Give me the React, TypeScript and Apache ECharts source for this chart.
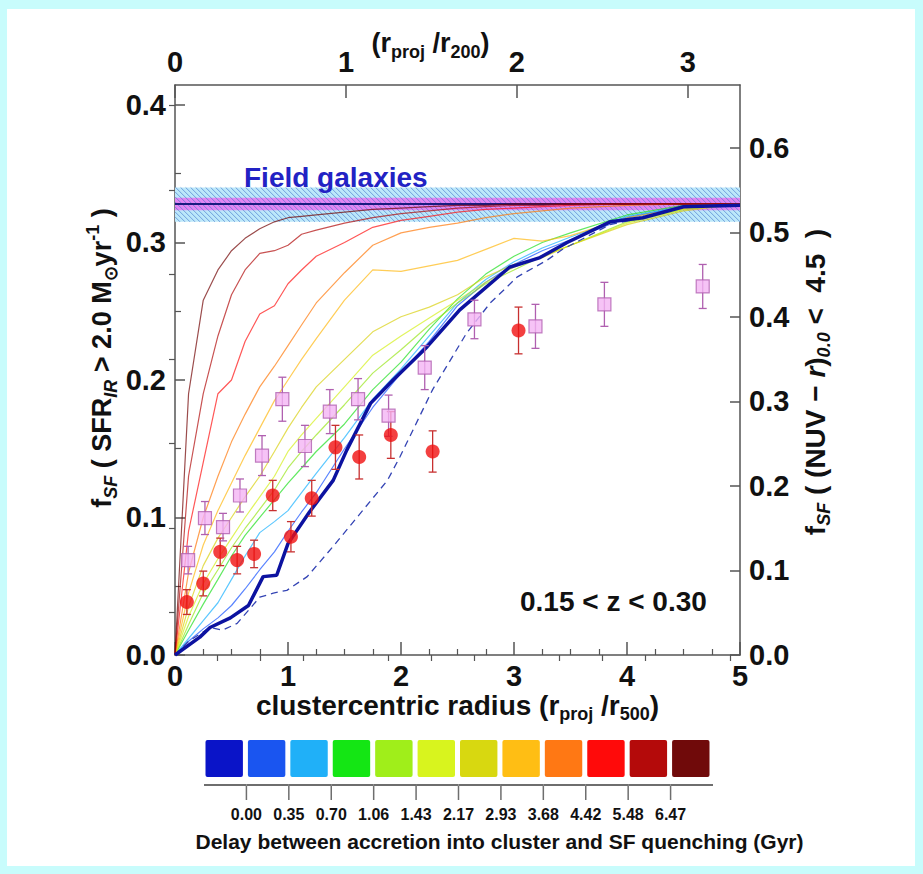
import React, { useEffect, useRef } from 'react';
import * as echarts from 'echarts';

const FONT = '"Liberation Sans", Arial, Helvetica, sans-serif';

// ---- axes ----
const radiusMajor = [0, 1, 2, 3, 4, 5];
const radiusMinor = [0.25, 0.5, 0.75, 1.25, 1.5, 1.75, 2.25, 2.5, 2.75, 3.25, 3.5, 3.75, 4.25, 4.5, 4.75];
const r200Max = 3.305;
const r200Major = [0, 1, 2, 3];
const r200Minor = [0.25, 0.5, 0.75, 1.25, 1.5, 1.75, 2.25, 2.5, 2.75, 3.25];
const irMax = 0.4145;
const irMajor = [0, 0.1, 0.2, 0.3, 0.4];
const irMinor = [0.05, 0.15, 0.25, 0.35];
const nuvMax = 0.6745;
const nuvMajor = [0, 0.1, 0.2, 0.3, 0.4, 0.5, 0.6];
const nuvMinor = [0.05, 0.15, 0.25, 0.35, 0.45, 0.55, 0.65];

// ---- field galaxies band ----
const fieldRange = [0, 5];
const fieldHatch = [0.315, 0.34];
const fieldCore = [0.3235, 0.3325];
const fieldValue = 0.328;

// ---- model curves (thin), sampled on common radii ----
const radiusGrid = [0, 0.12, 0.25, 0.38, 0.5, 0.62, 0.75, 0.88, 1.0, 1.12, 1.25, 1.5, 1.75, 2.0, 2.25, 2.5, 2.75, 3.0, 3.25, 3.5, 4.0, 4.5, 5.0];
const delay035 = [0, 0.01, 0.019, 0.027, 0.036, 0.048, 0.062, 0.075, 0.09, 0.104, 0.118, 0.15, 0.18, 0.205, 0.228, 0.254, 0.271, 0.284, 0.294, 0.302, 0.318, 0.326, 0.328];
const delay070 = [0, 0.012, 0.025, 0.038, 0.055, 0.072, 0.089, 0.097, 0.105, 0.118, 0.132, 0.158, 0.186, 0.208, 0.232, 0.256, 0.273, 0.286, 0.296, 0.304, 0.319, 0.326, 0.328];
const delay106 = [0, 0.018, 0.037, 0.055, 0.072, 0.087, 0.1, 0.113, 0.125, 0.136, 0.148, 0.168, 0.193, 0.213, 0.237, 0.259, 0.277, 0.29, 0.3, 0.307, 0.32, 0.327, 0.328];
const delay143 = [0, 0.022, 0.045, 0.062, 0.078, 0.092, 0.106, 0.12, 0.136, 0.148, 0.16, 0.182, 0.205, 0.222, 0.24, 0.256, 0.27, 0.28, 0.29, 0.298, 0.315, 0.324, 0.328];
const delay217 = [0, 0.028, 0.052, 0.07, 0.085, 0.1, 0.115, 0.13, 0.148, 0.16, 0.172, 0.195, 0.218, 0.232, 0.245, 0.258, 0.271, 0.282, 0.29, 0.298, 0.314, 0.324, 0.328];
const delay293 = [0, 0.035, 0.065, 0.085, 0.1, 0.115, 0.13, 0.148, 0.165, 0.18, 0.195, 0.215, 0.235, 0.246, 0.253, 0.262, 0.275, 0.284, 0.289, 0.298, 0.313, 0.323, 0.328];
const delay368 = [0, 0.045, 0.08, 0.105, 0.125, 0.145, 0.165, 0.185, 0.2, 0.215, 0.23, 0.258, 0.28, 0.279, 0.283, 0.287, 0.295, 0.303, 0.301, 0.305, 0.318, 0.325, 0.328];
const delay442 = [0, 0.06, 0.1, 0.13, 0.155, 0.175, 0.195, 0.21, 0.225, 0.24, 0.256, 0.278, 0.298, 0.307, 0.311, 0.314, 0.318, 0.321, 0.323, 0.325, 0.327, 0.328, 0.328];
const delay548 = [0, 0.09, 0.14, 0.19, 0.2, 0.228, 0.248, 0.254, 0.27, 0.28, 0.29, 0.3, 0.311, 0.316, 0.319, 0.322, 0.324, 0.325, 0.326, 0.327, 0.328, 0.328, 0.328];
const delay647 = [0, 0.13, 0.19, 0.232, 0.262, 0.28, 0.292, 0.294, 0.298, 0.306, 0.309, 0.314, 0.318, 0.321, 0.323, 0.325, 0.326, 0.327, 0.327, 0.328, 0.328, 0.328, 0.328];
const delayMax = [0, 0.19, 0.258, 0.28, 0.294, 0.303, 0.31, 0.315, 0.318, 0.319, 0.32, 0.322, 0.324, 0.325, 0.326, 0.327, 0.327, 0.328, 0.328, 0.328, 0.328, 0.328, 0.328];
const thinCurves = [delay035, delay070, delay106, delay143, delay217, delay293, delay368, delay442, delay548, delay647, delayMax];
const thinColors = ['#1450ff', '#18b0ff', '#20e020', '#99e619', '#d4f01a', '#d8d010', '#ffb810', '#ff7808', '#ff1010', '#b00808', '#700000'];

// ---- zero-delay model (thick) and dashed model ----
const thickX = [0, 0.22, 0.31, 0.49, 0.65, 0.78, 0.9, 1.0, 1.19, 1.4, 1.52, 1.73, 1.93, 2.23, 2.52, 2.96, 3.23, 3.47, 3.85, 4.14, 4.5, 5.0];
const thickY = [0, 0.013, 0.02, 0.027, 0.036, 0.057, 0.058, 0.081, 0.104, 0.127, 0.149, 0.183, 0.2, 0.224, 0.251, 0.282, 0.289, 0.3, 0.315, 0.318, 0.326, 0.327];
const dashX = [0, 0.12, 0.31, 0.42, 0.55, 0.75, 0.87, 0.99, 1.17, 1.4, 1.64, 1.88, 1.99, 2.28, 2.58, 2.79, 3.03, 3.29, 3.43, 3.85, 4.14, 4.5, 5.0];
const dashY = [0, 0.01, 0.02, 0.018, 0.023, 0.042, 0.045, 0.047, 0.057, 0.079, 0.103, 0.127, 0.144, 0.193, 0.234, 0.256, 0.275, 0.287, 0.295, 0.313, 0.318, 0.326, 0.327];

// ---- observations ----
const redX = [0.105, 0.25, 0.4, 0.55, 0.7, 0.865, 1.026, 1.21, 1.42, 1.63, 1.91, 2.28, 3.04];
const redY = [0.0385, 0.052, 0.075, 0.069, 0.0735, 0.116, 0.086, 0.114, 0.151, 0.144, 0.16, 0.148, 0.236];
const redErr = [0.009, 0.009, 0.01, 0.01, 0.01, 0.011, 0.011, 0.013, 0.016, 0.016, 0.017, 0.015, 0.017];
const pinkX = [0.116, 0.265, 0.425, 0.575, 0.77, 0.95, 1.15, 1.37, 1.62, 1.89, 2.21, 2.65, 3.19, 3.8, 4.67];
const pinkY = [0.069, 0.0996, 0.093, 0.116, 0.145, 0.186, 0.152, 0.177, 0.186, 0.174, 0.209, 0.244, 0.239, 0.255, 0.268];
const pinkErr = [0.01, 0.012, 0.01, 0.012, 0.0145, 0.016, 0.015, 0.016, 0.015, 0.015, 0.016, 0.014, 0.016, 0.016, 0.016];

// ---- colour bar ----
const colorbarColors = ['#0a14c8', '#1a55f0', '#20b0f8', '#14e614', '#a0ee1a', '#d8f41e', '#d8d810', '#ffbe14', '#ff7814', '#ff0a0a', '#b40a0a', '#700a0a'];
const colorbarRange = [0, 12];
const colorbarTicks = [1, 2, 3, 4, 5, 6, 7, 8, 9, 10, 11];
const delayLabels = ['0.00', '0.35', '0.70', '1.06', '1.43', '2.17', '2.93', '3.68', '4.42', '5.48', '6.47'];

const AX = '#555';
const TXT = '#111';
const CB_GRAY = '#6e6e6e';
const CB_LEFT = 204;
const CB_WIDTH = 509;
const CB_TOP = 740;

function errorBarSeries(xs: number[], ys: number[], es: number[], color: string) {
  return {
    type: 'custom',
    xAxisIndex: 0,
    yAxisIndex: 0,
    z: 4,
    silent: true,
    data: xs.map((x, i) => [x, ys[i], es[i]]),
    encode: { x: 0, y: 1 },
    renderItem: (_p: any, api: any) => {
      const x = api.value(0), y = api.value(1), e = api.value(2);
      const t = api.coord([x, y + e]);
      const b = api.coord([x, y - e]);
      const cap = 4;
      const st = { stroke: color, lineWidth: 1.3 };
      return {
        type: 'group',
        children: [
          { type: 'line', shape: { x1: t[0], y1: t[1], x2: b[0], y2: b[1] }, style: st },
          { type: 'line', shape: { x1: t[0] - cap, y1: t[1], x2: t[0] + cap, y2: t[1] }, style: st },
          { type: 'line', shape: { x1: b[0] - cap, y1: b[1], x2: b[0] + cap, y2: b[1] }, style: st },
        ],
      };
    },
  };
}

const NAME_SIZE = 28;
const sub = { fontFamily: FONT, fontWeight: 'bold', fontSize: 18, lineHeight: 18, verticalAlign: 'bottom', color: TXT };
const subi = { ...sub, fontStyle: 'italic' };
const sup = { ...sub, verticalAlign: 'top' };
const itl = { fontFamily: FONT, fontWeight: 'bold', fontStyle: 'italic', fontSize: NAME_SIZE, lineHeight: 36, color: TXT };
const nameStyle = (extra: any = {}) => ({
  fontFamily: FONT, fontWeight: 'bold', fontSize: NAME_SIZE, lineHeight: 36, color: TXT,
  rich: { sub, subi, sup, it: itl }, ...extra,
});
const tickLabel = { fontFamily: FONT, fontWeight: 'bold', fontSize: 29, color: TXT };

function minorAxis(position: string, max: number, vals: number[]) {
  return {
    type: 'value', gridIndex: 0, position, min: 0, max,
    axisLine: { show: false },
    axisTick: { show: true, inside: true, length: 6, customValues: vals, lineStyle: { color: AX, width: 1.2 } },
    axisLabel: { show: false },
    splitLine: { show: false },
  };
}

export default function App() {
  const ref = useRef<HTMLDivElement>(null);
  useEffect(() => {
    if (!ref.current) return;
    const chart = echarts.init(ref.current, undefined, { renderer: 'svg' });

    const series: any[] = [];
    // field band
    series.push({
      type: 'custom', xAxisIndex: 0, yAxisIndex: 0, z: 1, silent: true,
      data: [[fieldRange[0], fieldRange[1], fieldHatch[0], fieldHatch[1], fieldCore[0], fieldCore[1], fieldValue]],
      renderItem: (_p: any, api: any) => {
        const x0v = api.value(0), x1v = api.value(1);
        const tl = api.coord([x0v, api.value(3)]);
        const br = api.coord([x1v, api.value(2)]);
        const x0 = tl[0], y0 = tl[1], x1 = br[0], y1 = br[1];
        const h = y1 - y0;
        const m0 = api.coord([x0v, api.value(5)]);
        const m1 = api.coord([x0v, api.value(4)]);
        const c = api.coord([x0v, api.value(6)]);
        const children: any[] = [
          { type: 'rect', shape: { x: x0, y: y0, width: x1 - x0, height: h }, style: { fill: '#bce8fa' } },
          { type: 'rect', shape: { x: x0, y: m0[1], width: x1 - x0, height: m1[1] - m0[1] }, style: { fill: 'rgba(240,100,240,0.75)' } },
        ];
        for (let a = x0 - h; a < x1; a += 5) {
          let sx = a, sy = y0, ex = a + h, ey = y1;
          if (sx < x0) { sy = y0 + (x0 - sx); sx = x0; }
          if (ex > x1) { ey = y1 - (ex - x1); ex = x1; }
          children.push({ type: 'line', shape: { x1: sx, y1: sy, x2: ex, y2: ey }, style: { stroke: 'rgba(70,120,205,0.65)', lineWidth: 1 } });
        }
        children.push({ type: 'line', shape: { x1: x0, y1: c[1], x2: x1, y2: c[1] }, style: { stroke: '#1a1a80', lineWidth: 2 } });
        return { type: 'group', children };
      },
    });
    thinCurves.forEach((arr, k) => {
      series.push({
        type: 'line', xAxisIndex: 0, yAxisIndex: 0, z: 2, silent: true, symbol: 'none',
        data: radiusGrid.map((x, i) => [x, arr[i]]),
        lineStyle: { color: thinColors[k], width: 1.2, opacity: 0.7 },
      });
    });
    series.push({
      type: 'line', xAxisIndex: 0, yAxisIndex: 0, z: 3, silent: true, symbol: 'none',
      data: dashX.map((x, i) => [x, dashY[i]]),
      lineStyle: { color: '#3444b4', width: 1.3, type: [7, 5] },
    });
    series.push({
      type: 'line', xAxisIndex: 0, yAxisIndex: 0, z: 3, silent: true, symbol: 'none',
      data: thickX.map((x, i) => [x, thickY[i]]),
      lineStyle: { color: '#0c12a0', width: 3.5 },
    });
    series.push(errorBarSeries(redX, redY, redErr, '#c83030'));
    series.push(errorBarSeries(pinkX, pinkY, pinkErr, '#b060b0'));
    series.push({
      type: 'scatter', xAxisIndex: 0, yAxisIndex: 0, z: 5, silent: true,
      symbol: 'rect', symbolSize: 13,
      data: pinkX.map((x, i) => [x, pinkY[i]]),
      itemStyle: { color: '#f4b4f4', borderColor: '#b060b0', borderWidth: 1.2 },
    });
    series.push({
      type: 'scatter', xAxisIndex: 0, yAxisIndex: 0, z: 5, silent: true,
      symbol: 'circle', symbolSize: 14,
      data: redX.map((x, i) => [x, redY[i]]),
      itemStyle: { color: '#f01010' },
    });
    // colour bar boxes, with the scale bar segment and boundary tick drawn as filled rects
    series.push({
      type: 'custom', xAxisIndex: 4, yAxisIndex: 4, silent: true,
      data: colorbarColors.map((_c, i) => [i, i + 1]),
      renderItem: (params: any, api: any) => {
        const i0 = api.value(0);
        const a = api.coord([i0, 1]);
        const b = api.coord([api.value(1), 1]);
        const top = a[1];
        const children: any[] = [
          { type: 'rect', shape: { x: a[0] + 1.5, y: top, width: b[0] - a[0] - 5, height: 37, r: 2 }, style: { fill: colorbarColors[params.dataIndex] } },
          { type: 'rect', shape: { x: a[0], y: top + 44, width: b[0] - a[0], height: 2 }, style: { fill: CB_GRAY } },
        ];
        if (colorbarTicks.indexOf(i0) >= 0) {
          children.push({ type: 'rect', shape: { x: a[0] - 0.75, y: top + 46, width: 1.5, height: 14 }, style: { fill: CB_GRAY } });
        }
        return { type: 'group', children };
      },
    });

    const option: any = {
      animation: false,
      backgroundColor: 'transparent',
      grid: [
        { left: 175, top: 85, width: 565, height: 570 },
        { left: CB_LEFT, top: CB_TOP, width: CB_WIDTH, height: 60 },
      ],
      xAxis: [
        {
          type: 'value', gridIndex: 0, position: 'bottom', min: 0, max: 5, interval: 1,
          axisLine: { show: true, onZero: false, lineStyle: { color: AX, width: 1.5 } },
          axisTick: { show: true, inside: true, length: 13, customValues: radiusMajor, lineStyle: { color: AX, width: 1.5 } },
          axisLabel: { customValues: radiusMajor, formatter: (v: number) => String(v), margin: 9, lineHeight: 24, ...tickLabel },
          splitLine: { show: false },
          name: 'clustercentric radius (r{sub|proj} /r{sub|500})',
          nameLocation: 'middle', nameGap: 32, nameMoveOverlap: false,
          nameTextStyle: nameStyle(),
        },
        {
          type: 'value', gridIndex: 0, position: 'top', min: 0, max: r200Max,
          axisLine: { show: true, onZero: false, lineStyle: { color: AX, width: 1.5 } },
          axisTick: { show: true, inside: true, length: 13, customValues: r200Major, lineStyle: { color: AX, width: 1.5 } },
          axisLabel: { customValues: r200Major, formatter: (v: number) => String(v), margin: 9, ...tickLabel },
          splitLine: { show: false },
          name: '(r{sub|proj} /r{sub|200})',
          nameLocation: 'middle', nameGap: 24, nameMoveOverlap: false,
          nameTextStyle: nameStyle({ fontSize: 27, padding: [0, 54, 0, 0] }),
        },
        minorAxis('bottom', 5, radiusMinor),
        minorAxis('top', r200Max, r200Minor),
        {
          type: 'value', gridIndex: 1, position: 'bottom', min: colorbarRange[0], max: colorbarRange[1],
          axisLine: { show: false },
          axisTick: { show: false },
          axisLabel: {
            customValues: colorbarTicks, margin: 6,
            formatter: (v: number) => delayLabels[Math.round(v) - 1] ?? '',
            fontFamily: FONT, fontWeight: 'bold', fontSize: 16, color: TXT,
          },
          splitLine: { show: false },
          name: 'Delay between accretion into cluster and SF quenching (Gyr)',
          nameLocation: 'middle', nameGap: 31, nameMoveOverlap: false,
          nameTextStyle: { fontFamily: FONT, fontWeight: 'bold', fontSize: 21, color: TXT, padding: [0, 0, 0, 82] },
        },
      ],
      yAxis: [
        {
          type: 'value', gridIndex: 0, position: 'left', min: 0, max: irMax,
          axisLine: { show: true, onZero: false, lineStyle: { color: AX, width: 1.5 } },
          axisTick: { show: true, inside: true, length: 10, customValues: irMajor, lineStyle: { color: AX, width: 1.5 } },
          axisLabel: { customValues: irMajor, formatter: (v: number) => v.toFixed(1), margin: 9, ...tickLabel },
          splitLine: { show: false },
          name: 'f{subi|SF} ( SFR{subi|IR} > 2.0 M{sub|⊙}yr{sup|-1} )',
          nameLocation: 'middle', nameRotate: 90, nameGap: 55, nameMoveOverlap: false,
          nameTextStyle: nameStyle({ fontSize: 27, padding: [0, 0, 0, 24] }),
        },
        {
          type: 'value', gridIndex: 0, position: 'right', min: 0, max: nuvMax,
          axisLine: { show: true, onZero: false, lineStyle: { color: AX, width: 1.5 } },
          axisTick: { show: true, inside: true, length: 10, customValues: nuvMajor, lineStyle: { color: AX, width: 1.5 } },
          axisLabel: { customValues: nuvMajor, formatter: (v: number) => v.toFixed(1), margin: 9, ...tickLabel },
          splitLine: { show: false },
          name: 'f{subi|SF} ( (NUV − {it|r}){subi|0.0} <  4.5  )',
          nameLocation: 'middle', nameRotate: 90, nameGap: 57, nameMoveOverlap: false,
          nameTextStyle: nameStyle({ padding: [0, 24, 0, 0] }),
        },
        minorAxis('left', irMax, irMinor),
        minorAxis('right', nuvMax, nuvMinor),
        { type: 'value', gridIndex: 1, min: 0, max: 1, show: false },
      ],
      graphic: [
        {
          type: 'text', x: 244, y: 177, z: 100, silent: true,
          style: { text: 'Field galaxies', font: `bold 28px ${FONT}`, fill: '#2222c4', align: 'left', verticalAlign: 'middle', textAlign: 'left', textVerticalAlign: 'middle' },
        },
        {
          type: 'text', x: 520, y: 601, z: 100, silent: true,
          style: { text: '0.15 < z < 0.30', font: `bold 28px ${FONT}`, fill: TXT, align: 'left', verticalAlign: 'middle', textAlign: 'left', textVerticalAlign: 'middle' },
        },
      ],
      series,
    };
    chart.setOption(option);
    return () => chart.dispose();
  }, []);

  return (
    <div style={{ position: 'fixed', left: 0, top: 0, width: 923, height: 874, background: '#c8fcfc' }}>
      <div style={{ position: 'absolute', left: 7, top: 9, width: 908, height: 857, background: '#ffffff' }} />
      <div ref={ref} style={{ position: 'absolute', left: 0, top: 0, width: 923, height: 874 }} />
    </div>
  );
}
